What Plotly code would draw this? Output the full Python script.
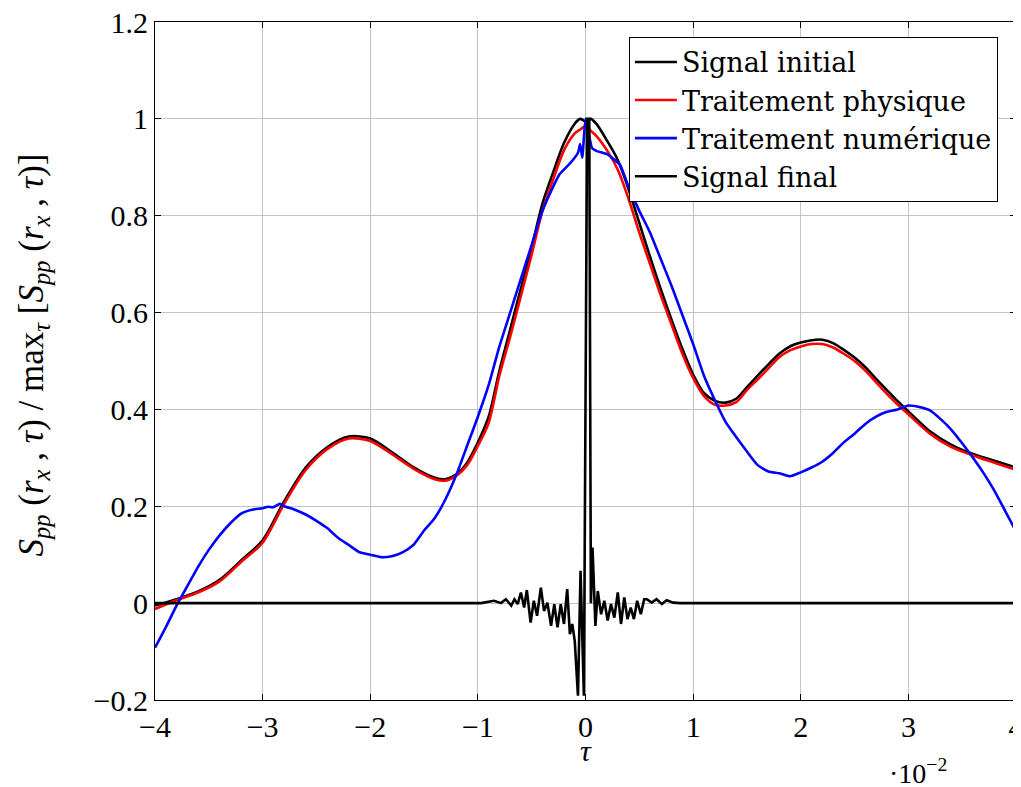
import plotly.graph_objects as go

# tau in units of 1e-2
tau_smooth = [-4.0, -3.8, -3.6, -3.4, -3.2, -3.0, -2.8, -2.6, -2.4, -2.2, -2.0, -1.8, -1.6, -1.4, -1.3,
              -1.2, -1.1, -1.0, -0.9, -0.8, -0.7, -0.6, -0.5, -0.4, -0.3, -0.2, -0.1, -0.05, 0.0, 0.05,
              0.1, 0.2, 0.3, 0.4, 0.5, 0.6, 0.7, 0.8, 0.9, 1.0, 1.1, 1.2, 1.3, 1.4, 1.5, 1.6, 1.7, 1.8,
              1.9, 2.0, 2.1, 2.2, 2.3, 2.4, 2.5, 2.6, 2.7, 2.8, 2.9, 3.0, 3.2, 3.4, 3.6, 3.8, 4.0]

signal_initial = [-0.005, 0.008, 0.024, 0.048, 0.088, 0.13, 0.21, 0.28, 0.322, 0.344, 0.34, 0.312, 0.281,
                  0.259, 0.256, 0.266, 0.29, 0.332, 0.385, 0.48, 0.565, 0.65, 0.735, 0.825, 0.89, 0.95,
                  0.99, 1.0, 0.995, 1.0, 0.99, 0.955, 0.915, 0.855, 0.785, 0.715, 0.648, 0.585, 0.525,
                  0.472, 0.434, 0.418, 0.414, 0.422, 0.446, 0.47, 0.493, 0.515, 0.53, 0.538, 0.543, 0.544,
                  0.537, 0.523, 0.507, 0.487, 0.463, 0.44, 0.417, 0.396, 0.355, 0.327, 0.308, 0.294, 0.28]

traitement_physique = [-0.012, 0.006, 0.022, 0.045, 0.085, 0.125, 0.205, 0.275, 0.318, 0.34, 0.335, 0.308,
                       0.278, 0.256, 0.253, 0.263, 0.285, 0.325, 0.372, 0.47, 0.55, 0.635, 0.72, 0.81, 0.875,
                       0.935, 0.97, 0.978, 0.985, 0.975, 0.965, 0.935, 0.895, 0.835, 0.765, 0.7, 0.635, 0.575,
                       0.515, 0.465, 0.428, 0.41, 0.408, 0.415, 0.44, 0.462, 0.485, 0.508, 0.522, 0.53, 0.535,
                       0.535, 0.528, 0.515, 0.5, 0.48, 0.456, 0.432, 0.41, 0.39, 0.35, 0.322, 0.305, 0.29, 0.275]

tau_num = [-4.0, -3.9, -3.8, -3.7, -3.6, -3.5, -3.4, -3.3, -3.2, -3.1, -3.0, -2.95, -2.9, -2.84, -2.8, -2.7,
           -2.6, -2.5, -2.4, -2.3, -2.2, -2.1, -2.0, -1.9, -1.8, -1.7, -1.6, -1.5, -1.4, -1.3, -1.2, -1.1,
           -1.0, -0.9, -0.8, -0.7, -0.6, -0.5, -0.4, -0.3, -0.24, -0.14, -0.07, -0.05, -0.03, 0.0, 0.03,
           0.06, 0.1, 0.2, 0.26, 0.32, 0.4, 0.5, 0.6, 0.7, 0.8, 0.9, 1.0, 1.1, 1.2, 1.3, 1.4, 1.5, 1.6, 1.7,
           1.8, 1.9, 2.0, 2.1, 2.2, 2.3, 2.4, 2.5, 2.6, 2.7, 2.8, 2.9, 3.0, 3.1, 3.2, 3.3, 3.4, 3.5, 3.6,
           3.7, 3.8, 3.9, 4.0]
traitement_numerique = [-0.092, -0.05, -0.005, 0.035, 0.075, 0.11, 0.14, 0.165, 0.185, 0.193, 0.196, 0.199,
                        0.198, 0.205, 0.2, 0.193, 0.183, 0.17, 0.155, 0.135, 0.12, 0.105, 0.1, 0.095, 0.097,
                        0.105, 0.12, 0.15, 0.176, 0.215, 0.265, 0.325, 0.385, 0.45, 0.53, 0.6, 0.67, 0.74,
                        0.81, 0.86, 0.886, 0.909, 0.93, 0.948, 0.92, 1.0, 0.97, 0.94, 0.934, 0.927, 0.917,
                        0.905, 0.86, 0.81, 0.765, 0.71, 0.655, 0.595, 0.535, 0.47, 0.42, 0.375, 0.343, 0.313,
                        0.285, 0.272, 0.268, 0.262, 0.27, 0.28, 0.292, 0.31, 0.332, 0.35, 0.37, 0.385, 0.395,
                        0.4, 0.408, 0.405, 0.398, 0.38, 0.358, 0.33, 0.3, 0.268, 0.232, 0.19, 0.148]

tau_final = [-4.0, -0.97, -0.85, -0.785, -0.74, -0.69, -0.66, -0.63, -0.6, -0.57, -0.545, -0.51, -0.48,
             -0.45, -0.415, -0.385, -0.354, -0.32, -0.29, -0.26, -0.23, -0.2, -0.17, -0.145, -0.123, -0.1,
             -0.07, -0.046, -0.015, 0.015, 0.035, 0.05, 0.065, 0.092, 0.114, 0.145, 0.175, 0.206, 0.237,
             0.268, 0.3, 0.33, 0.36, 0.39, 0.42, 0.45, 0.48, 0.514, 0.545, 0.57, 0.615, 0.66, 0.71, 0.754,
             0.815, 0.877, 4.0]
signal_final = [0.0, 0.0, 0.005, 0.0, 0.008, -0.005, 0.008, -0.002, 0.022, -0.009, 0.027, -0.04, 0.005,
                -0.026, 0.032, -0.016, 0.001, -0.047, -0.002, -0.05, -0.002, -0.043, 0.029, -0.064, -0.043,
                -0.078, -0.191, 0.067, -0.191, 1.0, 1.0, 0.0, 0.115, -0.047, 0.025, -0.023, 0.005, -0.036,
                -0.002, -0.03, 0.022, -0.043, 0.012, -0.033, -0.009, -0.033, 0.005, -0.023, 0.008, 0.008,
                0.001, 0.008, -0.002, 0.006, 0.001, 0.0, 0.0]

x_ticks = [-4, -3, -2, -1, 0, 1, 2, 3, 4]
x_ticklabels = ["−4", "−3", "−2", "−1", "0", "1", "2", "3", "4"]
y_ticks = [-0.2, 0.0, 0.2, 0.4, 0.6, 0.8, 1.0, 1.2]
y_ticklabels = ["−0.2", "0", "0.2", "0.4", "0.6", "0.8", "1", "1.2"]

FONT = "Liberation Serif"
LEGEND_FONT = "DejaVu Serif"

fig = go.Figure()
fig.add_trace(go.Scatter(x=tau_smooth, y=signal_initial, mode="lines", name="Signal initial",
                         line=dict(color="black", width=2.6, shape="spline", smoothing=0.8)))
fig.add_trace(go.Scatter(x=tau_smooth, y=traitement_physique, mode="lines", name="Traitement physique",
                         line=dict(color="#ff0000", width=2.6, shape="spline", smoothing=0.8)))
fig.add_trace(go.Scatter(x=tau_num, y=traitement_numerique, mode="lines", name="Traitement numérique",
                         line=dict(color="#0000ff", width=2.6, shape="spline", smoothing=0.5)))
fig.add_trace(go.Scatter(x=tau_final, y=signal_final, mode="lines", name="Signal final",
                         line=dict(color="black", width=2.6)))

axis_common = dict(showline=True, linecolor="black", linewidth=1.2, mirror="ticks",
                   ticks="inside", ticklen=6, tickcolor="black", tickwidth=1,
                   showgrid=True, gridcolor="#c4c4c4", gridwidth=1, zeroline=False,
                   ticklabeloverflow="allow", automargin=False,
                   tickfont=dict(family=FONT, size=30, color="black"))

fig.update_xaxes(range=[-4, 4], tickmode="array", tickvals=x_ticks, ticktext=x_ticklabels, **axis_common)
fig.update_yaxes(range=[-0.2, 1.2], tickmode="array", tickvals=y_ticks, ticktext=y_ticklabels, **axis_common)

ytitle = ("<i>S<sub>pp</sub></i>&nbsp;(<i>r<sub>x</sub></i>&nbsp;,&nbsp;<i>τ</i>)&nbsp;/&nbsp;max<sub><i>τ</i></sub>"
          "&nbsp;[<i>S<sub>pp</sub></i>&nbsp;(<i>r<sub>x</sub></i>&nbsp;,&nbsp;<i>τ</i>)]")

fig.update_layout(
    width=1013, height=779,
    margin=dict(l=147, r=5, t=14, b=87),
    paper_bgcolor="white", plot_bgcolor="white",
    font=dict(family=FONT, color="black"),
    showlegend=True,
    legend=dict(x=0.979, y=0.978, xanchor="right", yanchor="top",
                bgcolor="white", bordercolor="black", borderwidth=1,
                font=dict(family=LEGEND_FONT, size=27, color="black"),
                tracegroupgap=0, itemwidth=42),
    annotations=[
        dict(text="<i>τ</i>", x=0.5, y=-0.075, xref="paper", yref="paper", xanchor="center",
             yanchor="middle", showarrow=False, font=dict(family=FONT, size=30)),
        dict(text="·10<sup>−2</sup>", x=0.886, y=-0.106, xref="paper", yref="paper", xanchor="center",
             yanchor="middle", showarrow=False, font=dict(family=FONT, size=28)),
        dict(text=ytitle,
             x=-0.141, y=0.509, xref="paper", yref="paper", xanchor="center", yanchor="middle",
             textangle=-90, showarrow=False, font=dict(family=FONT, size=35)),
    ],
)

fig.write_html("out.html")
